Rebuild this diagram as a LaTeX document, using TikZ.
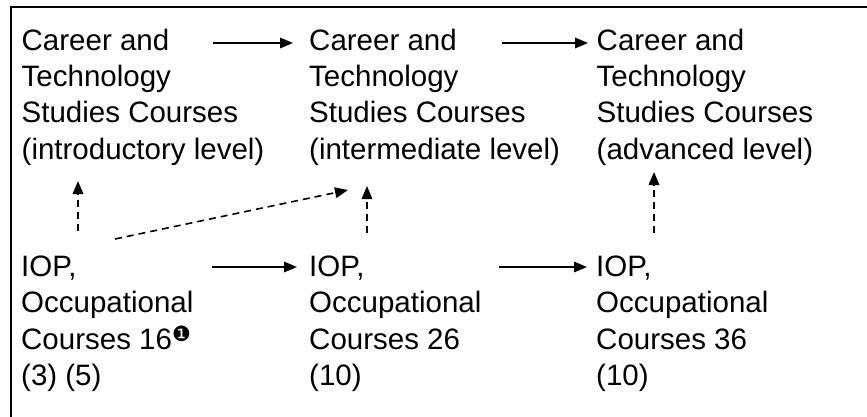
\documentclass[tikz,border=0pt]{standalone}
\usepackage{fontspec}
\setmainfont{Liberation Sans}
\newfontfamily\dejavu{DejaVu Sans}
\usetikzlibrary{arrows.meta}
\tikzset{
  lbl/.style={anchor=base west, inner sep=0pt, font=\fontsize{29.5}{36.2}\selectfont},
  solidarrow/.style={line width=1.6pt, -{Triangle[length=13pt,width=10.5pt]}},
  dasharrow/.style={line width=1.6pt, dash pattern=on 7pt off 5pt, -{Triangle[length=13pt,width=10.5pt]}},
  frameline/.style={line width=2.2pt}
}
\newcommand{\mlines}[1]{\begin{tabular}[t]{@{}l@{}}#1\end{tabular}}
\begin{document}
\begin{tikzpicture}[x=1pt,y=-1pt]
\useasboundingbox (0,0) rectangle (867,417);
\draw[frameline] (11,417) -- (11,7) -- (867,7);
\node[lbl] (t1) at (21.5,50.5) {\mlines{Career and\\Technology\\Studies Courses\\(introductory level)}};
\node[lbl] (t2) at (309,50.5) {\mlines{Career and\\Technology\\Studies Courses\\(intermediate level)}};
\node[lbl] (t3) at (596.5,50.5) {\mlines{Career and\\Technology\\Studies Courses\\(advanced level)}};
\node[lbl] (b1) at (21,276.7) {\mlines{IOP,\\Occupational\\Courses 16\raisebox{8pt}{\dejavu\fontsize{21}{21}\selectfont ❶}\\(3) (5)}};
\node[lbl] (b2) at (309,276.7) {\mlines{IOP,\\Occupational\\Courses 26\\(10)}};
\node[lbl] (b3) at (596,276.7) {\mlines{IOP,\\Occupational\\Courses 36\\(10)}};
% connector end points
\coordinate (t12s) at (213,43);  \coordinate (t12e) at (293,43);
\coordinate (t23s) at (502,43);  \coordinate (t23e) at (588,43);
\coordinate (b12s) at (212,267); \coordinate (b12e) at (297,267);
\coordinate (b23s) at (499,267); \coordinate (b23e) at (587,267);
\coordinate (v1s) at (78,231);   \coordinate (v1e) at (78,181);
\coordinate (v2s) at (367,233);  \coordinate (v2e) at (367,186);
\coordinate (v3s) at (654,233);  \coordinate (v3e) at (654,172);
\coordinate (ds) at (115,239);   \coordinate (de) at (348,190);
\draw[solidarrow] (t12s) -- (t12e);
\draw[solidarrow] (t23s) -- (t23e);
\draw[solidarrow] (b12s) -- (b12e);
\draw[solidarrow] (b23s) -- (b23e);
\draw[dasharrow] (v1s) -- (v1e);
\draw[dasharrow] (v2s) -- (v2e);
\draw[dasharrow] (v3s) -- (v3e);
\draw[dasharrow] (ds) -- (de);
\end{tikzpicture}
\end{document}
